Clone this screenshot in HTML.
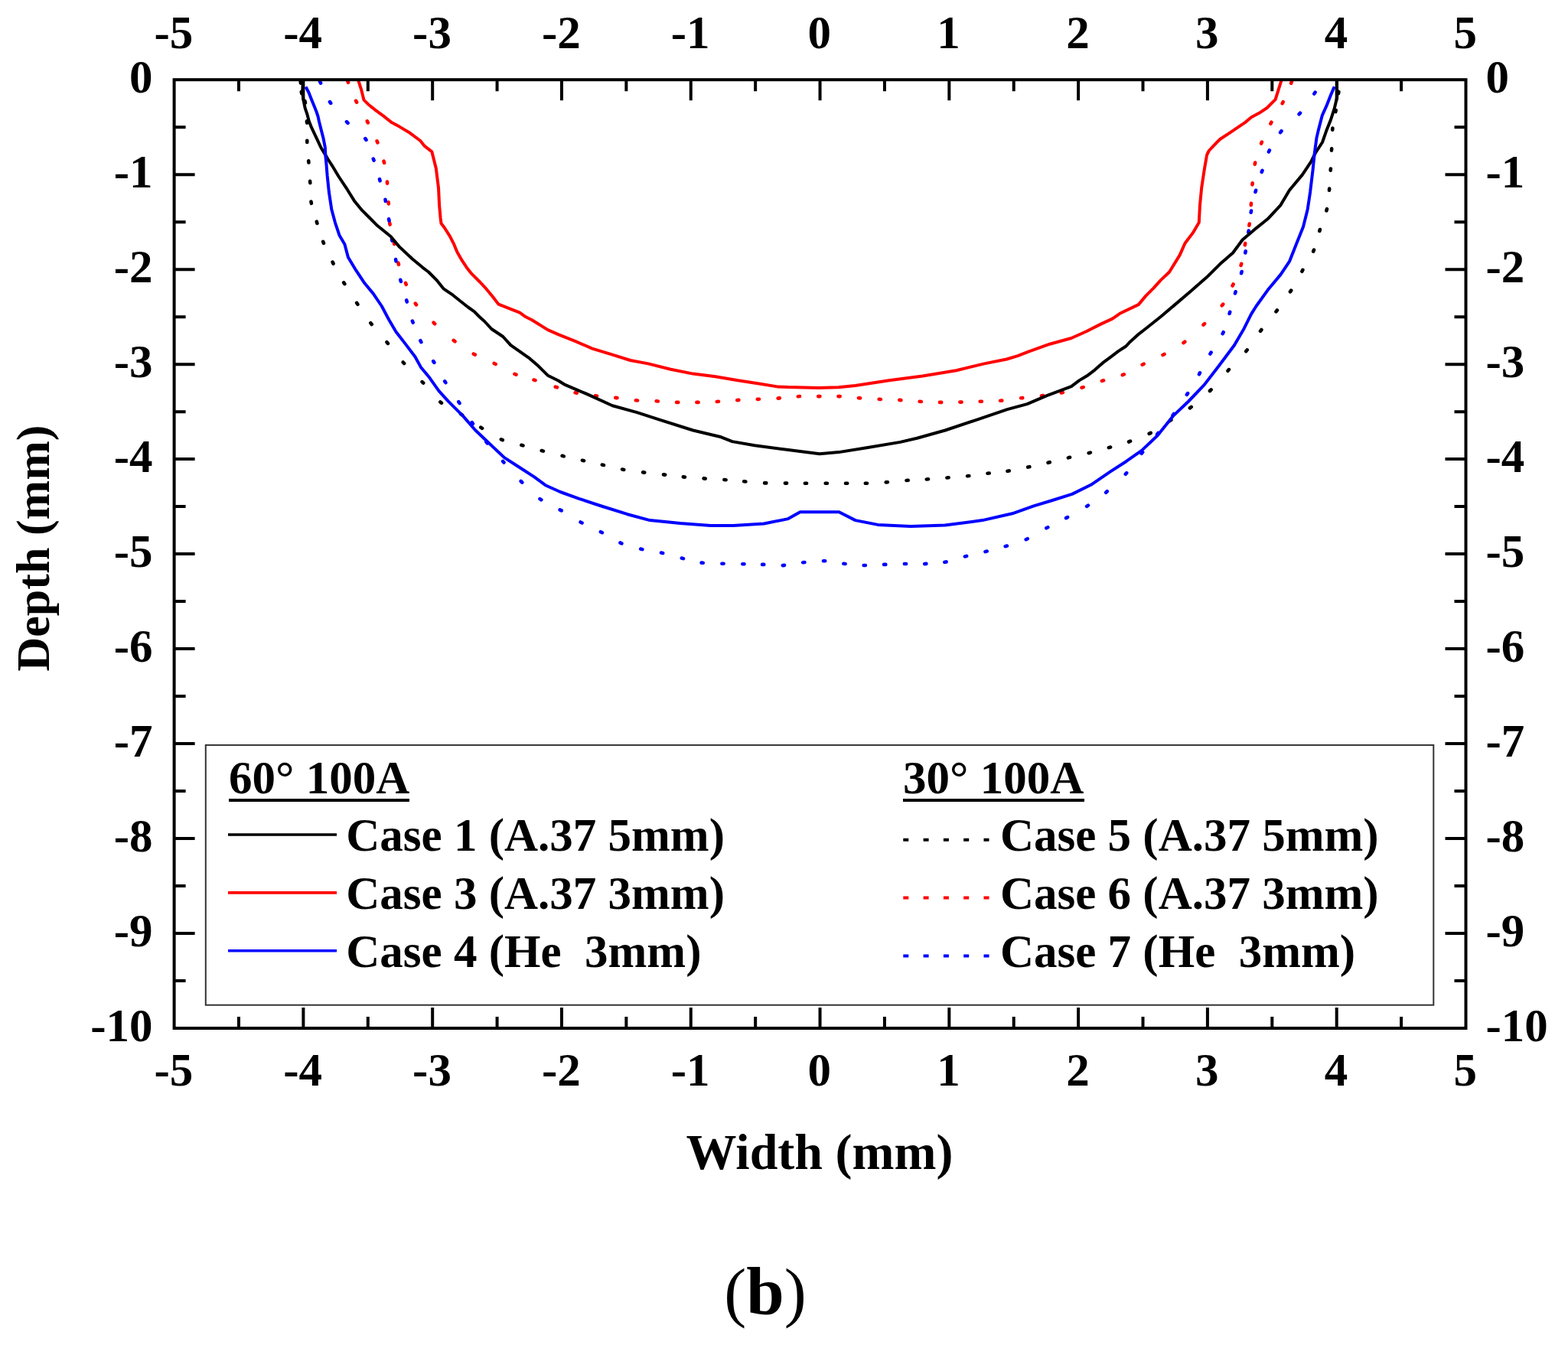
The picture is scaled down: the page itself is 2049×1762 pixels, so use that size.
<!DOCTYPE html>
<html><head><meta charset="utf-8"><title>Weld bead profile (b)</title>
<style>html,body{margin:0;padding:0;background:#fff}svg{display:block}</style></head>
<body><svg width="2049" height="1762" viewBox="0 0 2049 1762">
<rect width="2049" height="1762" fill="#fff"/>
<path d="M392.7 106.4L392.9 108.6M393.8 119.9L394.2 122.1M398.5 132.2L398.9 134.4M400.9 158.4L401.1 160.6M401.3 183.7L401.3 185.9M403.2 210.3L403.4 212.5M405.1 236.9L405.3 239.1M406.5 263.6L406.9 265.8M413.8 289.7L414.4 291.9M422.2 315.9L423.0 317.9M434.6 342.6L435.6 344.6M449.2 369.4L450.4 371.2M466.2 396.0L467.4 397.8M484.3 422.2L485.7 424.0M505.5 447.3L506.9 448.9M526.7 473.5L528.1 475.1M551.6 499.1L553.2 500.7M575.3 525.4L576.9 526.8M602.1 541.1L603.9 542.3M628.3 558.6L630.1 559.8M654.8 574.3L656.8 575.1M681.3 581.8L683.5 582.4M707.7 589.0L709.9 589.6M734.6 595.8L736.8 596.4M760.9 601.8L763.1 602.2M786.8 607.6L789.0 608.0M813.1 613.5L815.3 613.9M840.1 617.4L842.3 617.6M867.0 620.4L869.2 620.6M892.8 623.4L895.0 623.6M919.6 625.4L921.8 625.6M946.4 627.0L948.6 627.2M972.2 629.3L974.4 629.5M999.1 631.4L1001.3 631.4M1025.9 631.6L1028.1 631.6M1051.9 631.8L1054.1 631.8M1078.7 631.8L1080.9 631.8M1105.0 631.8L1107.2 631.8M1130.8 631.8L1133.0 631.8M1157.7 630.4L1159.9 630.2M1184.5 628.0L1186.7 627.8M1210.8 626.5L1213.0 626.3M1237.4 624.5L1239.6 624.3M1264.1 622.2L1266.3 622.0M1290.5 618.7L1292.7 618.5M1316.5 615.8L1318.7 615.4M1343.2 610.6L1345.4 610.2M1369.6 604.8L1371.8 604.2M1395.9 598.4L1398.1 597.8M1422.7 592.2L1424.9 591.6M1448.9 585.1L1451.1 584.5M1475.1 577.5L1477.1 576.7M1501.7 566.9L1503.7 565.9M1528.6 550.1L1530.4 548.9M1554.9 533.4L1556.7 532.0M1581.0 511.0L1582.6 509.4M1604.5 484.7L1605.9 483.1M1628.3 459.2L1629.7 457.4M1647.0 432.8L1648.4 431.0M1667.5 407.3L1668.9 405.5M1686.0 381.4L1687.2 379.6M1701.4 354.8L1702.4 352.8M1716.2 328.7L1717.0 326.7M1724.3 302.0L1724.9 300.0M1733.4 275.4L1734.0 273.2M1737.0 248.8L1737.2 246.6M1738.7 222.7L1738.9 220.5M1740.0 196.6L1740.2 194.4M1741.2 169.7L1741.4 167.5M1745.3 146.1L1745.7 143.9M1749.0 122.1L1749.4 119.9" fill="none" stroke="#000" stroke-width="4.6" stroke-linecap="round"/>
<path d="M454.3 105.8L455.1 107.8M465.1 131.8L466.1 133.8M479.8 158.4L480.8 160.4M492.6 184.4L493.4 186.4M501.5 210.7L502.1 212.9M505.9 237.5L506.1 239.7M507.6 264.2L507.8 266.4M509.2 291.4L509.6 293.6M514.9 316.9L515.3 319.1M520.4 343.6L521.0 345.8M530.0 369.8L530.8 371.8M542.8 396.6L544.0 398.4M566.6 421.7L568.2 423.3M592.7 444.9L594.5 446.3M618.8 462.6L620.8 463.6M645.7 475.0L647.7 476.0M672.5 488.9L674.5 489.7M697.5 496.5L699.5 497.1M725.8 505.7L728.0 506.3M751.6 513.3L753.8 513.7M777.9 517.3L780.1 517.5M804.3 519.9L806.5 520.1M830.9 523.3L833.1 523.5M857.7 524.3L859.9 524.5M884.1 525.9L886.3 525.9M910.4 525.9L912.6 525.9M936.8 525.0L939.0 524.8M963.2 523.1L965.4 522.9M989.8 521.9L992.0 521.7M1016.6 520.6L1018.8 520.4M1042.8 518.2L1045.0 518.0M1069.2 518.1L1071.4 518.1M1095.5 518.1L1097.7 518.1M1121.9 520.2L1124.1 520.4M1148.7 521.8L1150.9 522.0M1175.3 522.9L1177.5 523.1M1201.7 524.8L1203.9 525.0M1228.0 525.9L1230.2 525.9M1254.4 525.6L1256.6 525.6M1280.7 524.7L1282.9 524.7M1307.1 523.8L1309.3 523.6M1334.1 520.3L1336.3 520.1M1360.9 517.3L1363.1 517.1M1386.7 513.4L1388.9 513.0M1413.5 506.7L1415.7 506.1M1439.9 497.9L1442.1 497.3M1466.8 490.2L1468.8 489.4M1492.7 476.7L1494.7 475.7M1519.5 464.0L1521.5 463.0M1546.5 448.1L1548.3 446.7M1572.5 424.7L1574.1 423.1M1596.8 399.4L1598.2 397.6M1610.6 373.5L1611.6 371.5M1621.6 347.0L1622.2 344.8M1626.8 320.3L1627.2 318.1M1632.4 294.7L1632.8 292.5M1634.8 268.1L1635.0 265.9M1636.5 241.4L1636.7 239.2M1639.8 214.7L1640.2 212.5M1648.1 187.6L1648.9 185.6M1660.4 161.7L1661.4 159.7M1675.7 135.2L1676.7 133.2M1687.1 108.8L1687.9 106.8" fill="none" stroke="#f00" stroke-width="4.6" stroke-linecap="round"/>
<path d="M418.1 106.6L419.1 108.6M431.0 133.1L432.2 134.9M453.0 159.2L454.6 160.8M477.3 181.1L478.5 182.9M487.8 207.6L488.6 209.6M496.0 234.1L496.6 236.3M503.5 260.8L503.9 263.0M508.1 286.3L508.5 288.5M512.0 312.4L512.4 314.6M517.1 339.1L517.5 341.3M523.3 365.8L523.9 368.0M531.2 392.4L531.8 394.6M538.9 419.6L539.7 421.6M549.4 445.2L550.4 447.2M566.2 472.1L567.4 473.9M581.2 498.4L582.4 500.2M599.3 525.2L600.5 527.0M616.7 552.1L617.9 553.9M635.4 577.6L636.8 579.4M657.1 602.9L658.5 604.5M680.7 629.0L682.3 630.6M705.5 652.1L707.3 653.3M731.7 666.4L733.7 667.4M758.6 682.5L760.6 683.5M784.9 695.2L786.9 696.2M810.4 709.5L812.4 710.3M837.2 717.5L839.4 718.1M864.0 722.6L866.2 723.0M890.8 729.5L893.0 730.1M916.6 735.6L918.8 735.8M943.4 736.7L945.6 736.7M970.3 737.3L972.5 737.3M996.1 737.9L998.3 737.9M1022.8 739.1L1025.0 738.9M1049.2 735.2L1051.4 735.0M1076.0 733.2L1078.2 733.2M1102.4 736.8L1104.6 737.0M1128.7 739.0L1130.9 739.0M1155.1 737.9L1157.3 737.9M1181.9 737.0L1184.1 737.0M1208.2 737.1L1210.4 736.9M1234.4 734.8L1236.6 734.4M1260.9 727.5L1263.1 726.9M1287.5 721.1L1289.7 720.5M1313.7 714.1L1315.9 713.5M1340.7 705.2L1342.7 704.2M1367.3 690.3L1369.3 689.3M1393.1 677.1L1395.1 676.1M1420.1 661.8L1421.9 660.6M1445.2 643.7L1446.8 642.3M1470.8 619.8L1472.2 618.2M1491.7 592.8L1493.1 591.0M1512.1 567.8L1513.5 566.0M1532.6 542.8L1534.0 541.0M1550.9 515.9L1552.1 514.1M1567.0 489.3L1568.0 487.3M1581.4 462.6L1582.6 460.6M1597.7 436.2L1598.7 434.2M1606.6 410.0L1607.2 407.8M1614.0 383.5L1614.6 381.3M1622.1 357.2L1622.7 355.0M1627.3 330.5L1627.7 328.3M1631.3 303.8L1631.7 301.6M1634.7 277.7L1635.1 275.5M1640.5 251.0L1641.1 248.8M1648.7 224.8L1649.5 222.8M1657.9 198.5L1658.9 196.5M1673.1 173.1L1674.5 171.3M1697.6 149.3L1699.0 147.7M1717.4 122.5L1718.6 120.7" fill="none" stroke="#00f" stroke-width="4.6" stroke-linecap="round"/>
<polyline points="396.2,104.2 395.6,112.0 395.2,121.0 396.6,131.0 398.7,141.4 401.6,149.9 403.8,158.4 407.2,166.9 411.2,175.4 415.2,183.9 419.7,193.5 424.3,200.9 428.8,208.5 433.9,216.3 442.4,230.5 453.8,247.7 462.9,262.4 473.1,274.9 482.2,284.0 493.5,295.3 510.5,309.0 521.9,322.6 538.9,338.5 552.5,349.8 560.0,355.5 570.3,365.8 579.9,377.7 591.8,385.7 603.7,395.2 611.6,401.5 619.6,407.1 627.5,415.1 633.1,420.0 642.3,430.0 657.3,440.0 667.3,451.2 679.8,459.9 692.3,468.7 703.9,478.8 715.8,490.7 729.5,497.5 738.8,503.2 766.6,514.9 800.3,530.3 832.5,539.1 861.8,548.6 905.7,562.5 942.3,571.3 956.9,577.1 986.2,582.3 1030.0,588.0 1071.0,593.2 1095.9,591.1 1132.5,585.2 1176.4,577.9 1198.4,572.8 1235.0,562.5 1278.9,547.9 1316.3,535.1 1342.2,528.1 1368.0,517.2 1400.0,505.1 1410.2,497.4 1420.4,491.3 1430.6,483.6 1440.9,474.4 1451.1,466.8 1461.3,459.1 1471.5,452.5 1476.6,446.9 1486.8,437.7 1497.3,429.5 1517.1,413.7 1536.7,397.1 1556.2,380.5 1577.0,362.3 1594.1,345.3 1611.1,330.5 1623.6,313.5 1639.5,299.9 1656.5,286.3 1673.5,268.1 1684.9,248.8 1701.9,228.4 1713.2,211.4 1718.9,200.0 1728.0,186.0 1733.2,171.1 1739.0,156.5 1743.7,141.9 1747.2,127.2 1747.0,104.2" fill="none" stroke="#000" stroke-width="4" stroke-linejoin="round" stroke-linecap="butt"/>
<polyline points="467.9,104.2 472.1,117.1 475.5,130.7 481.0,136.2 491.2,144.4 501.5,151.9 511.7,160.1 522.0,165.6 535.7,173.8 549.3,184.0 554.8,190.9 564.4,198.4 567.1,209.3 569.8,220.0 573.0,245.4 574.1,268.1 575.6,285.0 576.5,292.0 580.7,297.5 587.8,308.6 593.4,319.7 597.3,329.3 603.7,340.4 610.0,349.9 615.6,357.1 627.5,369.0 635.5,377.7 643.4,387.2 651.4,397.6 663.3,402.3 679.2,408.7 687.1,414.3 695.1,418.2 715.8,431.1 730.0,437.3 752.0,446.1 773.9,455.6 800.3,463.7 823.7,471.0 847.1,475.4 876.4,482.7 905.7,488.6 935.0,492.2 964.3,497.3 993.5,501.7 1015.5,505.4 1030.0,506.1 1069.5,506.9 1095.8,506.3 1117.8,503.9 1161.8,497.3 1205.7,491.5 1249.6,484.2 1286.2,475.4 1315.5,469.5 1330.0,465.1 1344.1,459.6 1371.9,449.7 1400.0,442.0 1419.5,433.2 1439.0,423.4 1453.7,416.6 1463.4,409.8 1487.8,398.1 1497.6,386.4 1507.4,376.6 1517.1,365.9 1528.1,355.5 1541.7,333.4 1548.5,318.0 1558.8,304.4 1566.8,290.8 1568.0,268.1 1570.2,245.4 1573.6,222.7 1577.1,202.5 1579.8,197.0 1589.4,186.8 1594.2,182.0 1607.8,173.1 1618.8,165.6 1627.0,160.1 1635.2,153.3 1645.4,147.8 1655.7,141.0 1662.5,134.2 1666.6,130.1 1670.7,117.1 1674.8,104.2" fill="none" stroke="#f00" stroke-width="4" stroke-linejoin="round" stroke-linecap="butt"/>
<polyline points="399.5,113.5 403.5,121.0 407.0,130.0 410.5,138.5 413.5,146.0 415.5,152.0 416.9,158.4 419.7,169.7 422.6,181.1 424.8,192.4 425.4,203.8 426.5,215.1 427.7,230.0 429.9,251.1 433.3,273.8 437.9,290.8 443.6,307.8 450.4,319.2 454.9,336.2 465.1,353.2 476.5,370.3 487.8,383.9 498.7,400.0 508.7,418.7 517.5,433.7 530.0,449.9 542.4,466.2 549.9,479.9 561.2,493.6 573.6,511.1 586.1,524.9 604.9,543.6 621.1,562.3 636.6,577.0 659.0,598.1 678.6,610.8 698.1,623.4 712.7,634.2 732.2,643.0 756.7,651.8 785.9,661.5 820.0,672.2 849.2,680.1 888.9,684.1 928.6,687.0 958.4,687.0 998.2,684.5 1030.0,678.1 1045.6,669.3 1096.4,669.3 1117.8,680.1 1147.1,685.9 1190.1,687.9 1235.0,686.5 1283.8,680.1 1322.8,671.3 1350.8,661.4 1375.2,654.0 1400.9,645.9 1425.5,633.8 1451.1,616.4 1471.5,603.2 1491.9,588.9 1512.4,569.5 1532.8,543.9 1553.2,524.5 1573.6,503.1 1592.4,478.8 1612.8,451.5 1624.8,431.1 1635.0,410.6 1641.7,400.0 1656.5,379.3 1673.5,358.9 1684.9,341.9 1693.9,319.2 1703.0,296.5 1708.7,273.8 1712.1,251.1 1715.5,222.7 1717.8,200.0 1720.5,180.1 1722.6,171.1 1727.9,150.6 1733.2,138.9 1739.0,124.3 1743.7,113.2" fill="none" stroke="#00f" stroke-width="4" stroke-linejoin="round" stroke-linecap="butt"/>
<rect x="268.8" y="973.9" width="1604.5" height="339.8" fill="#fff" stroke="#333" stroke-width="2"/><g style="font-family:'Liberation Serif','Times New Roman',serif;font-weight:bold;font-size:61px" fill="#000"><text x="299" y="1037">60° 100A</text><text x="1180" y="1037">30° 100A</text><text x="452.3" y="1112.0" xml:space="preserve">Case 1 (A.37 5mm)</text><text x="1307" y="1112.0" xml:space="preserve">Case 5 (A.37 5mm)</text><text x="452.3" y="1187.9" xml:space="preserve">Case 3 (A.37 3mm)</text><text x="1307" y="1187.9" xml:space="preserve">Case 6 (A.37 3mm)</text><text x="452.3" y="1263.8" xml:space="preserve">Case 4 (He  3mm)</text><text x="1307" y="1263.8" xml:space="preserve">Case 7 (He  3mm)</text></g><path d="M299 1046h236M1180 1046h237" stroke="#000" stroke-width="4"/><path d="M298 1091.0H440" stroke="#000" stroke-width="3.6"/><path d="M1180.3 1097.7H1295" stroke="#000" stroke-width="4" stroke-dasharray="7 19.3"/><path d="M298 1166.9H440" stroke="#f00" stroke-width="3.6"/><path d="M1180.3 1173.6H1295" stroke="#f00" stroke-width="4" stroke-dasharray="7 19.3"/><path d="M298 1242.8H440" stroke="#00f" stroke-width="3.6"/><path d="M1180.3 1249.5H1295" stroke="#00f" stroke-width="4" stroke-dasharray="7 19.3"/>
<rect x="227.6" y="104.2" width="1687.9" height="1239.8" fill="none" stroke="#000" stroke-width="4"/><path d="M312.00 104.2v15M312.00 1344.0v-15M396.39 104.2v27M396.39 1344.0v-27M480.79 104.2v15M480.79 1344.0v-15M565.18 104.2v27M565.18 1344.0v-27M649.58 104.2v15M649.58 1344.0v-15M733.97 104.2v27M733.97 1344.0v-27M818.37 104.2v15M818.37 1344.0v-15M902.76 104.2v27M902.76 1344.0v-27M987.16 104.2v15M987.16 1344.0v-15M1071.55 104.2v27M1071.55 1344.0v-27M1155.94 104.2v15M1155.94 1344.0v-15M1240.34 104.2v27M1240.34 1344.0v-27M1324.73 104.2v15M1324.73 1344.0v-15M1409.13 104.2v27M1409.13 1344.0v-27M1493.52 104.2v15M1493.52 1344.0v-15M1577.92 104.2v27M1577.92 1344.0v-27M1662.32 104.2v15M1662.32 1344.0v-15M1746.71 104.2v27M1746.71 1344.0v-27M1831.11 104.2v15M1831.11 1344.0v-15M227.6 166.19h15M1915.5 166.19h-15M227.6 228.18h27M1915.5 228.18h-27M227.6 290.17h15M1915.5 290.17h-15M227.6 352.16h27M1915.5 352.16h-27M227.6 414.15h15M1915.5 414.15h-15M227.6 476.14h27M1915.5 476.14h-27M227.6 538.13h15M1915.5 538.13h-15M227.6 600.12h27M1915.5 600.12h-27M227.6 662.11h15M1915.5 662.11h-15M227.6 724.10h27M1915.5 724.10h-27M227.6 786.09h15M1915.5 786.09h-15M227.6 848.08h27M1915.5 848.08h-27M227.6 910.07h15M1915.5 910.07h-15M227.6 972.06h27M1915.5 972.06h-27M227.6 1034.05h15M1915.5 1034.05h-15M227.6 1096.04h27M1915.5 1096.04h-27M227.6 1158.03h15M1915.5 1158.03h-15M227.6 1220.02h27M1915.5 1220.02h-27M227.6 1282.01h15M1915.5 1282.01h-15" stroke="#000" stroke-width="4" fill="none"/><g style="font-family:'Liberation Serif','Times New Roman',serif;font-weight:bold;font-size:61px" fill="#000"><text x="226.9" y="63" text-anchor="middle">-5</text><text x="226.9" y="1418.5" text-anchor="middle">-5</text><text x="395.7" y="63" text-anchor="middle">-4</text><text x="395.7" y="1418.5" text-anchor="middle">-4</text><text x="564.5" y="63" text-anchor="middle">-3</text><text x="564.5" y="1418.5" text-anchor="middle">-3</text><text x="733.3" y="63" text-anchor="middle">-2</text><text x="733.3" y="1418.5" text-anchor="middle">-2</text><text x="902.1" y="63" text-anchor="middle">-1</text><text x="902.1" y="1418.5" text-anchor="middle">-1</text><text x="1070.8" y="63" text-anchor="middle">0</text><text x="1070.8" y="1418.5" text-anchor="middle">0</text><text x="1239.6" y="63" text-anchor="middle">1</text><text x="1239.6" y="1418.5" text-anchor="middle">1</text><text x="1408.4" y="63" text-anchor="middle">2</text><text x="1408.4" y="1418.5" text-anchor="middle">2</text><text x="1577.2" y="63" text-anchor="middle">3</text><text x="1577.2" y="1418.5" text-anchor="middle">3</text><text x="1746.0" y="63" text-anchor="middle">4</text><text x="1746.0" y="1418.5" text-anchor="middle">4</text><text x="1914.8" y="63" text-anchor="middle">5</text><text x="1914.8" y="1418.5" text-anchor="middle">5</text><text x="199.5" y="120.7" text-anchor="end">0</text><text x="1941.5" y="120.7" text-anchor="start">0</text><text x="199.5" y="244.7" text-anchor="end">-1</text><text x="1941.5" y="244.7" text-anchor="start">-1</text><text x="199.5" y="368.7" text-anchor="end">-2</text><text x="1941.5" y="368.7" text-anchor="start">-2</text><text x="199.5" y="492.6" text-anchor="end">-3</text><text x="1941.5" y="492.6" text-anchor="start">-3</text><text x="199.5" y="616.6" text-anchor="end">-4</text><text x="1941.5" y="616.6" text-anchor="start">-4</text><text x="199.5" y="740.6" text-anchor="end">-5</text><text x="1941.5" y="740.6" text-anchor="start">-5</text><text x="199.5" y="864.6" text-anchor="end">-6</text><text x="1941.5" y="864.6" text-anchor="start">-6</text><text x="199.5" y="988.6" text-anchor="end">-7</text><text x="1941.5" y="988.6" text-anchor="start">-7</text><text x="199.5" y="1112.5" text-anchor="end">-8</text><text x="1941.5" y="1112.5" text-anchor="start">-8</text><text x="199.5" y="1236.5" text-anchor="end">-9</text><text x="1941.5" y="1236.5" text-anchor="start">-9</text><text x="199.5" y="1360.5" text-anchor="end">-10</text><text x="1941.5" y="1360.5" text-anchor="start">-10</text></g><text x="1071" y="1527.5" text-anchor="middle" style="font-family:'Liberation Serif','Times New Roman',serif;font-weight:bold;font-size:66px">Width (mm)</text><text transform="translate(63.5,716.5) rotate(-90)" x="0" y="0" text-anchor="middle" style="font-family:'Liberation Serif','Times New Roman',serif;font-weight:bold;font-size:62px">Depth (mm)</text><text x="1000" y="1718" text-anchor="middle" style="font-family:'Liberation Serif','Times New Roman',serif;font-weight:bold;font-size:87px"><tspan font-weight="normal">(</tspan><tspan font-size="89">b</tspan><tspan font-weight="normal">)</tspan></text>
</svg></body></html>
